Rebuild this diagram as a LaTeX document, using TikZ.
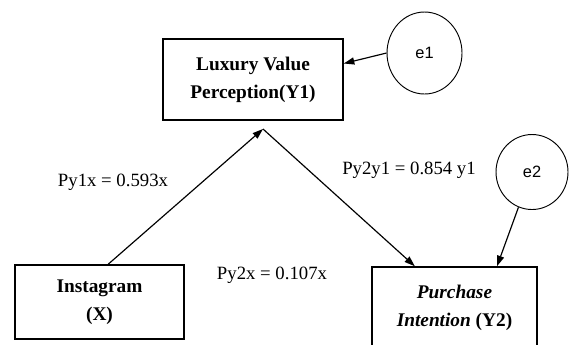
\documentclass[tikz,border=0pt]{standalone}
\usepackage{fontspec}
\setmainfont{Liberation Serif}
\newfontfamily\errfont{Liberation Sans}
\usetikzlibrary{positioning, arrows.meta, shapes.geometric, calc}

\begin{document}
\begin{tikzpicture}[
        font=\fontsize{16}{24}\selectfont,
        box/.style={rectangle, draw, line width=1.3pt, minimum width=5.4cm,
            minimum height=2.43cm, align=center, font=\fontsize{16.5}{24}\selectfont\bfseries},
        err/.style={ellipse, draw, line width=0.8pt, inner sep=0pt,
            font=\fontsize{14}{16}\selectfont\errfont},
        arr/.style={-{Triangle[length=9pt,width=6pt]}, line width=1pt}
    ]
    \useasboundingbox (0,0) rectangle (17.1,-10.32);

    \node[box] (lux) at (7.59,-2.385) {Luxury Value\\Perception(Y1)};
    \node[box, minimum width=5.07cm, minimum height=2.22cm] (ins) at (2.985,-9.06) {Instagram\\(X)};
    \node[box, minimum width=4.95cm] (pur) at (13.635,-9.225) {\textit{Purchase}\\\textit{Intention} (Y2)};
    \node[err, minimum width=2.25cm, minimum height=2.46cm] (e1) at (12.735,-1.59) {e1};
    \node[err, minimum width=2.16cm, minimum height=2.25cm] (e2) at (15.96,-5.16) {e2};
    \coordinate (top) at (7.89,-3.87);

    \node (p1) at (3.39,-5.46) {Py1x = 0.593x};
    \node (p2) at (8.16,-8.25) {Py2x = 0.107x};
    \node (p3) at (12.27,-5.1) {Py2y1 = 0.854 y1};

    \draw[arr] ($(ins.north)+(0.26,0)$) -- (top);
    \draw[arr] (top) -- ($(pur.north)+(-1.19,0)$);
    \draw[arr] (e1.west) -- (lux.10.5);
    \draw[arr] (e2.249) -- ($(pur.north)+(1.275,0)$);
\end{tikzpicture}
\end{document}
